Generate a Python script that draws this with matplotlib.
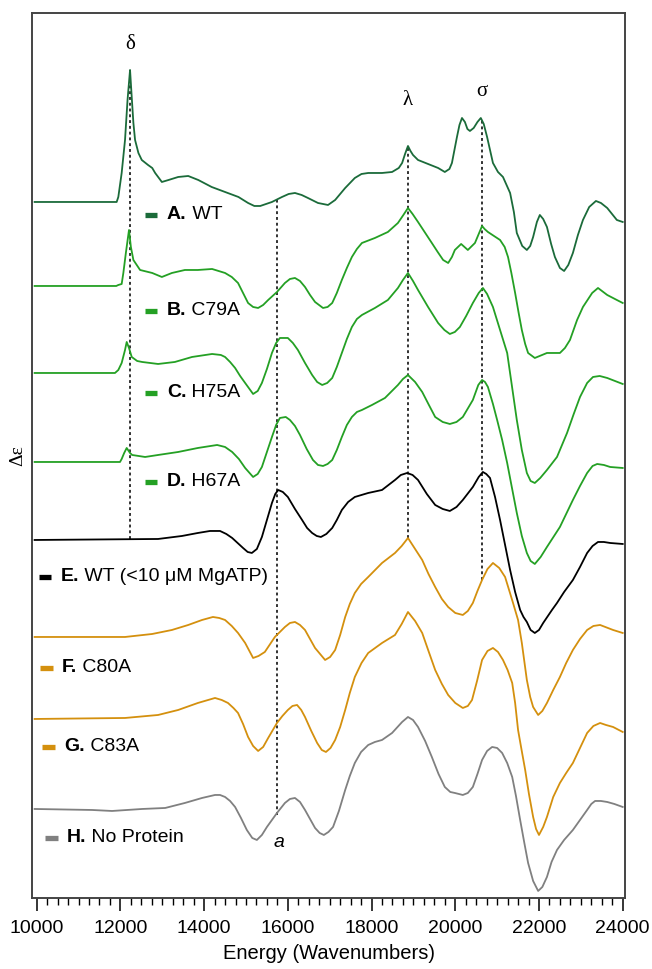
import matplotlib
matplotlib.use("Agg")
import matplotlib.pyplot as plt
from matplotlib.ticker import MultipleLocator

# energies (cm-1) and CD signal relative to each trace's own baseline (arb. units)
A_E = [9950, 11000, 11910, 11950, 12030, 12110, 12170, 12230, 12270, 12310, 12350, 12430, 12510, 12660, 12760,
       12830, 12990, 13150, 13380, 13620, 13860, 14180, 14500, 14820, 15050, 15200, 15340, 15480, 15620, 15860,
       16020, 16170, 16330, 16480, 16720, 16960, 17130, 17250, 17370, 17600, 17760, 17920, 18250, 18490, 18650,
       18730, 18800, 18870, 18930, 18990, 19110, 19350, 19590, 19750, 19860, 19920, 20040, 20100, 20160, 20230,
       20290, 20350, 20440, 20530, 20610, 20680, 20760, 20900, 21020, 21140, 21310, 21400, 21470, 21600, 21710,
       21790, 21860, 21950, 22020, 22100, 22190, 22290, 22380, 22500, 22600, 22700, 22810, 22930, 23050, 23200,
       23360, 23480, 23630, 23860, 24000]
A_de = [0, 0, 0, 5, 29, 62, 102, 132, 105, 79, 62, 49, 42, 37, 34,
        29, 20, 22, 25, 26, 22, 15, 10, 5, -1, -4, -4, -2, 0, 5,
        8, 9, 7, 4, -1, -3, 2, 8, 14, 24, 28, 29, 29, 30, 34,
        39, 48, 56, 51, 47, 42, 38, 34, 30, 33, 39, 65, 77, 84, 80,
        73, 71, 74, 80, 84, 78, 65, 39, 30, 25, 9, -10, -31, -44, -48,
        -44, -35, -20, -13, -17, -25, -42, -55, -66, -69, -63, -51, -33, -18, -5,
        1, -1, -6, -18, -20]

B_E = [9950, 11900, 11950, 12030, 12070, 12130, 12205, 12250, 12310, 12470, 12760, 12990, 13230, 13540, 13850,
       14190, 14500, 14660, 14810, 14930, 15050, 15170, 15290, 15410, 15530, 15740, 15930, 16050, 16170, 16290,
       16410, 16530, 16650, 16840, 16950, 17060, 17170, 17290, 17410, 17530, 17650, 17770, 18080, 18390, 18630,
       18760, 18870, 18980, 19110, 19440, 19580, 19710, 19830, 19920, 19990, 20140, 20220, 20300, 20470, 20560,
       20640, 20700, 20780, 21070, 21180, 21260, 21340, 21430, 21510, 21590, 21670, 21740, 21900, 22190, 22500,
       22620, 22740, 22910, 23050, 23270, 23410, 23630, 23860, 24000]
B_de = [0, 0, 1, 2, 13, 33, 56, 39, 26, 16, 13, 9, 13, 16, 16,
        17, 13, 9, 3, -7, -17, -21, -22, -19, -14, -6, 3, 7, 8, 5,
        -1, -9, -16, -22, -21, -17, -7, 6, 18, 29, 37, 43, 48, 54, 63,
        71, 78, 72, 64, 43, 34, 26, 23, 29, 36, 42, 39, 36, 43, 52,
        60, 57, 54, 46, 39, 29, 13, -7, -26, -44, -58, -67, -72, -67, -67,
        -62, -54, -34, -21, -7, -2, -9, -14, -17]

C_E = [9950, 11870, 11950, 12030, 12110, 12150, 12205, 12270, 12400, 12520, 12900, 13300, 13710, 14190, 14400,
       14500, 14620, 14740, 14860, 14980, 15170, 15280, 15380, 15500, 15620, 15720, 15810, 16000, 16120, 16240,
       16410, 16580, 16700, 16820, 16940, 17060, 17170, 17290, 17410, 17530, 17650, 17770, 18080, 18390, 18630,
       18750, 18870, 18990, 19110, 19350, 19590, 19740, 19870, 19990, 20110, 20260, 20420, 20560, 20660, 20760,
       20900, 21070, 21240, 21350, 21470, 21590, 21710, 21800, 21900, 22030, 22190, 22430, 22670, 22830, 22980,
       23150, 23290, 23450, 23630, 24000]
C_de = [0, 0, 3, 10, 23, 31, 25, 16, 12, 11, 9, 11, 16, 19, 18,
        16, 11, 5, -3, -10, -21, -18, -10, 4, 20, 30, 35, 35, 30, 23,
        10, -2, -9, -12, -10, -5, 6, 20, 34, 46, 54, 58, 65, 73, 85,
        93, 100, 92, 83, 66, 50, 43, 39, 41, 46, 57, 70, 80, 85, 79,
        66, 43, 20, -12, -47, -77, -100, -108, -110, -105, -97, -84, -60, -41, -24,
        -10, -4, -3, -5, -11]

D_E = [9950, 11990, 12030, 12090, 12150, 12230, 12280, 12590, 12900, 13380, 13850, 14310, 14500, 14670, 14830,
       14980, 15170, 15280, 15380, 15500, 15620, 15720, 15810, 15950, 16050, 16170, 16290, 16450, 16600, 16720,
       16840, 16950, 17060, 17170, 17290, 17410, 17530, 17650, 17770, 18010, 18320, 18630, 18750, 18870, 19040,
       19210, 19370, 19520, 19700, 19870, 20030, 20180, 20420, 20550, 20640, 20710, 20780, 20900, 21000, 21120,
       21240, 21350, 21470, 21590, 21710, 21800, 21900, 22040, 22190, 22500, 22810, 22980, 23150, 23280, 23390,
       23550, 23700, 24000]
D_de = [0, 0, 3, 9, 14, 9, 7, 5, 7, 10, 14, 17, 15, 10, 3,
        -6, -15, -12, -5, 10, 25, 37, 44, 45, 42, 36, 27, 13, 2, -3,
        -4, -2, 2, 12, 25, 37, 45, 50, 52, 57, 64, 77, 83, 87, 80,
        70, 57, 45, 40, 38, 40, 45, 62, 77, 82, 80, 75, 58, 42, 22,
        -1, -25, -51, -74, -91, -99, -102, -95, -85, -65, -38, -24, -11, -4, -2,
        -3, -5, -6]

E_E = [9950, 12900, 13470, 13850, 14140, 14380, 14530, 14670, 14800, 14930, 15040, 15140, 15260, 15380, 15500,
       15620, 15700, 15770, 15880, 16000, 16170, 16340, 16460, 16580, 16690, 16790, 16920, 17060, 17170, 17290,
       17440, 17600, 17920, 18250, 18560, 18700, 18850, 18980, 19110, 19320, 19520, 19700, 19870, 20030, 20180,
       20420, 20560, 20660, 20740, 20830, 20950, 21070, 21190, 21310, 21430, 21550, 21630, 21710, 21800, 21900,
       22000, 22100, 22310, 22430, 22600, 22810, 22980, 23150, 23280, 23410, 23550, 23700, 24000]
E_de = [0, 1, 4, 7, 9, 9, 6, 2, -3, -8, -12, -13, -9, 3, 20,
        37, 46, 50, 48, 43, 31, 20, 12, 7, 4, 3, 6, 12, 20, 30,
        38, 43, 47, 50, 60, 65, 67, 65, 60, 46, 35, 31, 29, 33, 40,
        53, 63, 68, 66, 62, 43, 20, -5, -30, -52, -70, -77, -82, -90, -93,
        -90, -83, -70, -63, -52, -40, -27, -13, -6, -2, -2, -3, -4]

F_E = [9950, 12110, 12760, 13230, 13620, 13950, 14210, 14360, 14500, 14660, 14810, 14980, 15170, 15300, 15450,
       15690, 15930, 16050, 16170, 16290, 16410, 16530, 16650, 16890, 17010, 17130, 17250, 17370, 17480, 17600,
       17750, 17920, 18250, 18560, 18720, 18870, 19040, 19210, 19360, 19520, 19680, 19830, 20000, 20180, 20300,
       20420, 20530, 20640, 20770, 20900, 21050, 21190, 21300, 21380, 21500, 21590, 21710, 21790, 21860, 21980,
       22080, 22190, 22340, 22500, 22650, 22810, 22980, 23150, 23300, 23460, 23770, 24000]
F_de = [0, 0, 3, 7, 12, 17, 20, 19, 17, 11, 4, -6, -21, -19, -15,
        0, 10, 14, 15, 12, 7, -2, -11, -23, -20, -13, 2, 20, 33, 44,
        53, 60, 74, 84, 91, 99, 88, 77, 63, 50, 38, 30, 24, 22, 26,
        34, 46, 57, 68, 74, 69, 60, 45, 34, 17, -6, -43, -60, -70, -78,
        -74, -66, -53, -40, -26, -13, -2, 7, 11, 12, 7, 4]

G_E = [9950, 12110, 12900, 13380, 13850, 14260, 14420, 14570, 14700, 14810, 14930, 15050, 15170, 15290, 15410,
       15530, 15740, 15870, 16000, 16110, 16220, 16320, 16410, 16560, 16700, 16810, 16910, 17020, 17130, 17250,
       17370, 17480, 17600, 17760, 17920, 18250, 18560, 18720, 18870, 19040, 19210, 19360, 19520, 19680, 19830,
       20000, 20180, 20300, 20400, 20520, 20640, 20770, 20900, 21020, 21140, 21250, 21360, 21430, 21500, 21580,
       21670, 21760, 21860, 21930, 22000, 22100, 22190, 22340, 22500, 22650, 22810, 22980, 23150, 23300, 23460,
       23600, 23770, 24000]
G_de = [0, 1, 4, 9, 16, 21, 19, 16, 11, 6, -5, -18, -27, -32, -28,
        -19, -4, 3, 9, 13, 14, 9, 2, -12, -24, -31, -33, -29, -21, -8,
        9, 26, 42, 56, 66, 76, 84, 95, 107, 98, 86, 68, 49, 35, 24,
        16, 11, 13, 19, 38, 59, 68, 71, 67, 59, 49, 36, 16, -11, -30,
        -51, -75, -98, -110, -116, -108, -98, -78, -64, -54, -44, -29, -14, -7, -4,
        -6, -8, -13]

H_E = [9950, 11320, 11800, 12520, 13070, 13540, 13950, 14260, 14380, 14500, 14620, 14740, 14880, 15020, 15150,
       15260, 15380, 15500, 15740, 15930, 16050, 16170, 16290, 16410, 16530, 16650, 16760, 16860, 16970, 17080,
       17220, 17370, 17480, 17600, 17750, 17920, 18080, 18250, 18490, 18730, 18870, 18990, 19110, 19280, 19440,
       19600, 19750, 19880, 19990, 20180, 20300, 20420, 20530, 20640, 20760, 20880, 21000, 21120, 21240, 21360,
       21450, 21550, 21650, 21740, 21860, 21980, 22080, 22190, 22300, 22430, 22600, 22810, 22980, 23150, 23250,
       23340, 23480, 23630, 23800, 24000]
H_de = [0, -1, -2, 0, 1, 6, 11, 14, 14, 12, 8, 2, -9, -21, -29,
        -31, -26, -18, -4, 6, 10, 11, 7, -1, -10, -19, -24, -26, -23, -18,
        -2, 19, 33, 46, 57, 64, 67, 69, 76, 87, 92, 89, 82, 68, 52,
        35, 22, 17, 16, 14, 16, 22, 35, 49, 58, 62, 61, 56, 46, 32,
        13, -11, -34, -54, -72, -82, -78, -68, -53, -41, -31, -21, -11, -1, 5,
        8, 8, 7, 5, 2]

letters = ["A.", "B.", "C.", "D.", "E.", "F.", "G.", "H."]
names = ["WT", "C79A", "H75A", "H67A", "WT (<10 \u03bcM MgATP)", "C80A", "C83A", "No Protein"]
peaks = ["\u03b4", "\u03bb", "\u03c3"]
peak_E = [12230, 18870, 20630]
a_E = 15740

# layout / style
offsets = [696, 612, 525, 436, 358, 261, 179, 89]
dkgreen, green, orange = "#1b6b3a", "#24a024", "#d4900e"
colors = [dkgreen, green, green, green, "black", orange, orange, "#808080"]
label_y = [683, 587, 505, 416, 321, 230, 151, 60]
label_x = [13110, 13110, 13110, 13110, 10580, 10600, 10650, 10720]
bar_x = [(12590, 12875)] * 4 + [(10055, 10340), (10080, 10390), (10125, 10435), (10195, 10505)]

spectra = [(A_E, A_de), (B_E, B_de), (C_E, C_de), (D_E, D_de),
           (E_E, E_de), (F_E, F_de), (G_E, G_de), (H_E, H_de)]

fig = plt.figure(figsize=(6.52, 9.69), dpi=100)
ax = fig.add_axes([0.0491, 0.0733, 0.9095, 0.9133])

for (xs, ys), off, c in zip(spectra, offsets, colors):
    ax.plot(xs, [y + off for y in ys], color=c, lw=1.3, zorder=3, solid_joinstyle="round")

# dotted guide lines
dot = (0, (1.6, 1.6))
ax.vlines(peak_E[0], 359, 828, colors="#222222", linestyles=[dot], lw=1.3, zorder=2)
ax.vlines(a_E, 83, 698, colors="#222222", linestyles=[dot], lw=1.3, zorder=2)
ax.vlines(peak_E[1], 360, 752, colors="#222222", linestyles=[dot], lw=1.3, zorder=2)
ax.vlines(peak_E[2], 318, 780, colors="#222222", linestyles=[dot], lw=1.3, zorder=2)

serif = ["Liberation Serif", "DejaVu Serif"]
ax.text(peak_E[0], 853, peaks[0], family=serif, fontsize=15, ha="center", va="center")
ax.text(peak_E[1], 797, peaks[1], family=serif, fontsize=15, ha="center", va="center")
ax.text(peak_E[2], 806, peaks[2], family=serif, fontsize=15, ha="center", va="center")
ax.text(15790, 55, "a", family="Liberation Sans", style="italic", fontsize=14, ha="center", va="center")

# trace labels: coloured bar, bold letter, name
for i in range(8):
    ax.plot(bar_x[i], [label_y[i], label_y[i]], color=colors[i], lw=3.8, solid_capstyle="butt")
    t = ax.text(label_x[i], label_y[i], letters[i], family="Liberation Sans", fontweight="bold",
                fontsize=14, ha="left", va="center")
    ax.annotate(" " + names[i], xy=(1, 0.5), xycoords=t, family="Liberation Sans", fontsize=14,
                ha="left", va="center")

ax.set_xlim(9888, 24055)
ax.set_ylim(0, 885)
ax.xaxis.set_major_locator(MultipleLocator(2000))
ax.xaxis.set_minor_locator(MultipleLocator(250))
ax.set_yticks([])
ax.tick_params(axis="x", which="major", length=9, width=1.1, direction="out", labelsize=14, pad=7)
ax.tick_params(axis="x", which="minor", length=5, width=1.0, direction="out")
for lab in ax.get_xticklabels():
    lab.set_family("Liberation Sans")
for s in ax.spines.values():
    s.set_linewidth(1.4)
    s.set_color("#444444")

ax.set_xlabel("Energy (Wavenumbers)", family="Liberation Sans", fontsize=14.5, labelpad=5)
ax.set_ylabel("\u0394\u03b5", family=serif, fontsize=14, labelpad=4)

fig.savefig("out.png", dpi=100)
plt.close(fig)
